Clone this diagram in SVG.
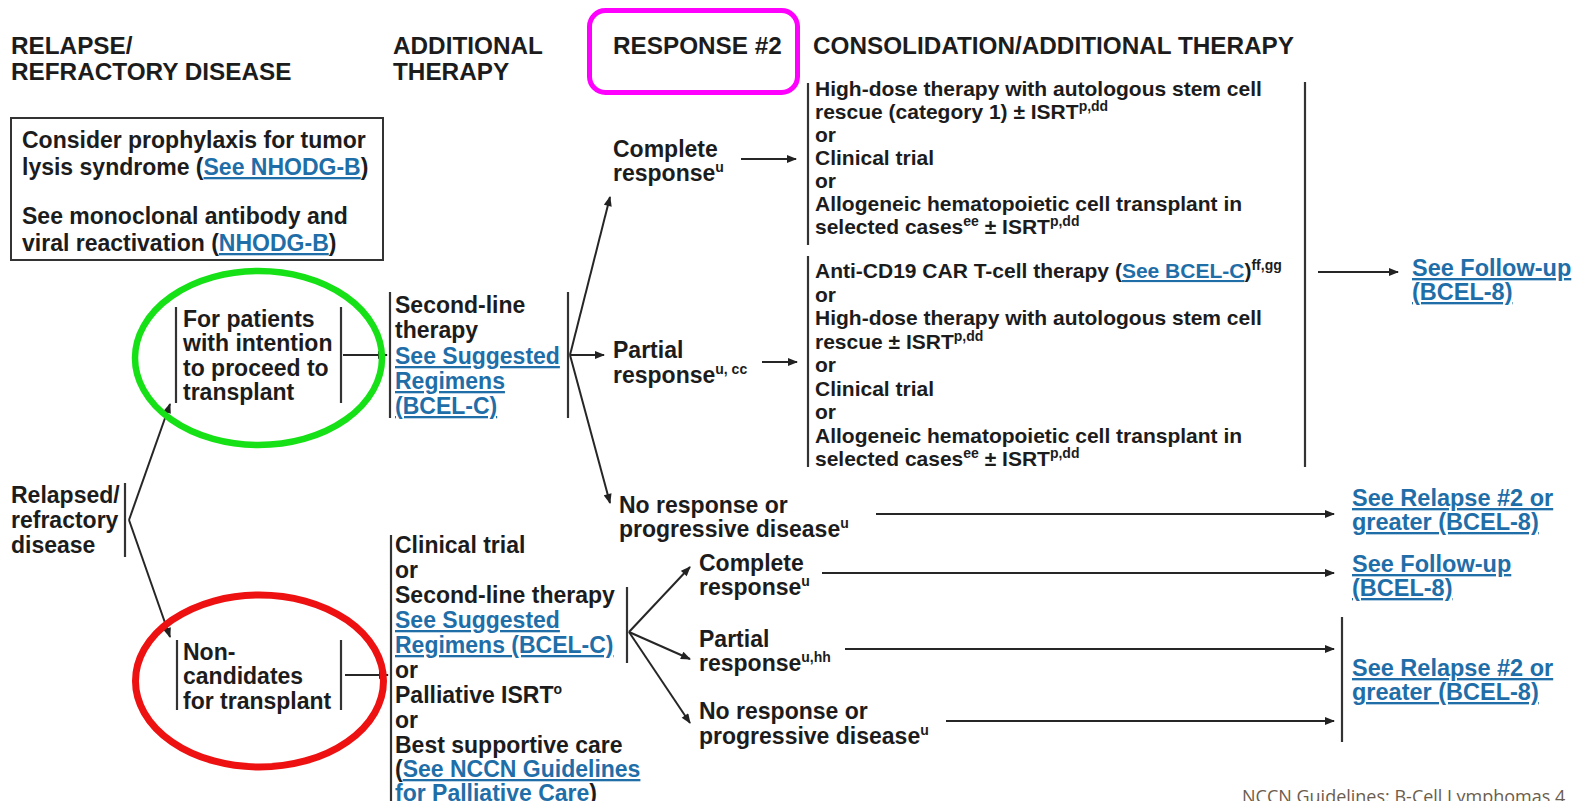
<svg xmlns="http://www.w3.org/2000/svg" width="1578" height="801" viewBox="0 0 1578 801">
<defs>
<style>
text{font-family:"Liberation Sans",Arial,sans-serif;font-weight:bold;fill:#1c1c1c}
.h{font-size:24.3px}
.t23{font-size:23px}
.t21{font-size:21px}
.t24{font-size:23.5px}
.lk{fill:#1f6ea8;text-decoration:underline}
.s{font-size:14px}
.bar{stroke:#333;stroke-width:2.2;fill:none}
.ar{stroke:#262626;stroke-width:2;fill:none;marker-end:url(#ah)}
.ft{font-family:"Open Sans","Noto Sans",sans-serif;font-weight:normal;font-size:18px;fill:#6b5d4d}
</style>
<marker id="ah" viewBox="0 0 10 8" refX="9" refY="4" markerWidth="11" markerHeight="8" markerUnits="userSpaceOnUse" orient="auto"><path d="M0,0 L10,4 L0,8 z" fill="#222"/></marker>
</defs>
<rect width="1578" height="801" fill="#fff"/>

<g id="headers">
<text class="h" x="11" y="54">RELAPSE/</text>
<text class="h" x="11" y="80">REFRACTORY DISEASE</text>
<text class="h" x="393" y="54">ADDITIONAL</text>
<text class="h" x="393" y="80">THERAPY</text>
<text class="h" x="613" y="54">RESPONSE #2</text>
<text class="h" x="813" y="54">CONSOLIDATION/ADDITIONAL THERAPY</text>
</g>

<g id="box-prophylaxis">
<rect x="11" y="118" width="372" height="142" fill="none" stroke="#333" stroke-width="2"/>
<text class="t23" x="22" y="148">Consider prophylaxis for tumor</text>
<text class="t23" x="22" y="175">lysis syndrome (<tspan class="lk">See NHODG-B</tspan>)</text>
<text class="t23" x="22" y="224">See monoclonal antibody and</text>
<text class="t23" x="22" y="251">viral reactivation (<tspan class="lk">NHODG-B</tspan>)</text>
</g>

<g id="node-relapsed">
<text class="t23" x="11" y="503">Relapsed/</text>
<text class="t23" x="11" y="528">refractory</text>
<text class="t23" x="11" y="553">disease</text>
<line class="bar" x1="125" y1="483" x2="125" y2="557"/>
</g>

<g id="node-transplant">
<line class="bar" x1="176" y1="307" x2="176" y2="403"/>
<line class="bar" x1="341" y1="307" x2="341" y2="403"/>
<text class="t23" x="183" y="327">For patients</text>
<text class="t23" x="183" y="351">with intention</text>
<text class="t23" x="183" y="376">to proceed to</text>
<text class="t23" x="183" y="400">transplant</text>
</g>

<g id="node-noncandidates">
<line class="bar" x1="177" y1="640" x2="177" y2="710"/>
<line class="bar" x1="341" y1="640" x2="341" y2="710"/>
<text class="t23" x="183" y="660">Non-</text>
<text class="t23" x="183" y="684">candidates</text>
<text class="t23" x="183" y="709">for transplant</text>
</g>

<g id="node-secondline">
<line class="bar" x1="390" y1="292" x2="390" y2="418"/>
<line class="bar" x1="568" y1="292" x2="568" y2="418"/>
<text class="t23" x="395" y="313">Second-line</text>
<text class="t23" x="395" y="338">therapy</text>
<text class="t23 lk" x="395" y="364">See Suggested</text>
<text class="t23 lk" x="395" y="389">Regimens</text>
<text class="t23 lk" x="395" y="414">(BCEL-C)</text>
</g>

<g id="node-bottom-therapy">
<line class="bar" x1="391" y1="535" x2="391" y2="801"/>
<line class="bar" x1="627" y1="587" x2="627" y2="663"/>
<text class="t23" x="395" y="553">Clinical trial</text>
<text class="t23" x="395" y="578">or</text>
<text class="t23" x="395" y="603">Second-line therapy</text>
<text class="t23 lk" x="395" y="628">See Suggested</text>
<text class="t23 lk" x="395" y="653">Regimens (BCEL-C)</text>
<text class="t23" x="395" y="678">or</text>
<text class="t23" x="395" y="703">Palliative ISRT<tspan class="s" dy="-9">o</tspan></text>
<text class="t23" x="395" y="728">or</text>
<text class="t23" x="395" y="753">Best supportive care</text>
<text class="t23" x="395" y="777">(<tspan class="lk">See NCCN Guidelines</tspan></text>
<text class="t23" x="395" y="801"><tspan class="lk">for Palliative Care</tspan>)</text>
</g>

<g id="node-cr1">
<text class="t23" x="613" y="157">Complete</text>
<text class="t23" x="613" y="181">response<tspan class="s" dy="-9">u</tspan></text>
</g>
<g id="node-pr1">
<text class="t23" x="613" y="358">Partial</text>
<text class="t23" x="613" y="383">response<tspan class="s" dy="-9">u, cc</tspan></text>
</g>
<g id="node-nr1">
<text class="t23" x="619" y="513">No response or</text>
<text class="t23" x="619" y="537">progressive disease<tspan class="s" dy="-9">u</tspan></text>
</g>

<g id="node-cons1">
<line class="bar" x1="808" y1="83" x2="808" y2="245"/>
<text class="t21" x="815" y="96">High-dose therapy with autologous stem cell</text>
<text class="t21" x="815" y="119">rescue (category 1) ± ISRT<tspan class="s" dy="-8">p,dd</tspan></text>
<text class="t21" x="815" y="142">or</text>
<text class="t21" x="815" y="165">Clinical trial</text>
<text class="t21" x="815" y="188">or</text>
<text class="t21" x="815" y="211">Allogeneic hematopoietic cell transplant in</text>
<text class="t21" x="815" y="234">selected cases<tspan class="s" dy="-8">ee</tspan><tspan dy="8"> ± ISRT</tspan><tspan class="s" dy="-8">p,dd</tspan></text>
</g>

<g id="node-cons2">
<line class="bar" x1="808" y1="256" x2="808" y2="467"/>
<text class="t21" x="815" y="278">Anti-CD19 CAR T-cell therapy (<tspan class="lk">See BCEL-C</tspan>)<tspan class="s" dy="-8">ff,gg</tspan></text>
<text class="t21" x="815" y="301.5">or</text>
<text class="t21" x="815" y="325">High-dose therapy with autologous stem cell</text>
<text class="t21" x="815" y="348.5">rescue ± ISRT<tspan class="s" dy="-8">p,dd</tspan></text>
<text class="t21" x="815" y="372">or</text>
<text class="t21" x="815" y="395.5">Clinical trial</text>
<text class="t21" x="815" y="419">or</text>
<text class="t21" x="815" y="442.5">Allogeneic hematopoietic cell transplant in</text>
<text class="t21" x="815" y="466">selected cases<tspan class="s" dy="-8">ee</tspan><tspan dy="8"> ± ISRT</tspan><tspan class="s" dy="-8">p,dd</tspan></text>
</g>

<g id="node-cons-bar">
<line class="bar" x1="1305" y1="82" x2="1305" y2="467"/>
</g>

<g id="node-followup1">
<text class="t24 lk" x="1412" y="276">See Follow-up</text>
<text class="t24 lk" x="1412" y="300">(BCEL-8)</text>
</g>

<g id="node-cr2">
<text class="t23" x="699" y="571">Complete</text>
<text class="t23" x="699" y="595">response<tspan class="s" dy="-9">u</tspan></text>
</g>
<g id="node-pr2">
<text class="t23" x="699" y="647">Partial</text>
<text class="t23" x="699" y="671">response<tspan class="s" dy="-9">u,hh</tspan></text>
</g>
<g id="node-nr2">
<text class="t23" x="699" y="719">No response or</text>
<text class="t23" x="699" y="744">progressive disease<tspan class="s" dy="-9">u</tspan></text>
</g>

<g id="node-relapse1">
<text class="t24 lk" x="1352" y="506">See Relapse #2 or</text>
<text class="t24 lk" x="1352" y="530">greater (BCEL-8)</text>
</g>
<g id="node-followup2">
<text class="t24 lk" x="1352" y="572">See Follow-up</text>
<text class="t24 lk" x="1352" y="596">(BCEL-8)</text>
</g>
<g id="node-relapse2">
<line class="bar" x1="1342" y1="617" x2="1342" y2="742"/>
<text class="t24 lk" x="1352" y="676">See Relapse #2 or</text>
<text class="t24 lk" x="1352" y="700">greater (BCEL-8)</text>
</g>

<g id="connectors">
<line class="ar" x1="129" y1="520" x2="170" y2="404"/>
<line class="ar" x1="129" y1="520" x2="170" y2="637"/>
<line class="ar" x1="343" y1="355" x2="387" y2="355"/>
<line class="ar" x1="345" y1="675" x2="388" y2="675"/>
<line class="ar" x1="570" y1="355" x2="610" y2="197"/>
<line class="ar" x1="570" y1="355" x2="604" y2="355"/>
<line class="ar" x1="570" y1="355" x2="610" y2="503"/>
<line class="ar" x1="741" y1="159" x2="796" y2="159"/>
<line class="ar" x1="762" y1="362" x2="797" y2="362"/>
<line class="ar" x1="1318" y1="272" x2="1398" y2="272"/>
<line class="ar" x1="876" y1="514" x2="1334" y2="514"/>
<line class="ar" x1="629" y1="632" x2="690" y2="567"/>
<line class="ar" x1="629" y1="632" x2="690" y2="659"/>
<line class="ar" x1="629" y1="632" x2="690" y2="723"/>
<line class="ar" x1="822" y1="573" x2="1334" y2="573"/>
<line class="ar" x1="845" y1="649" x2="1334" y2="649"/>
<line class="ar" x1="946" y1="721" x2="1334" y2="721"/>
</g>

<g id="highlights" fill="none">
<rect x="589.5" y="10.5" width="208" height="82" rx="16" stroke="#ff00ff" stroke-width="5"/>
<ellipse cx="258.5" cy="358" rx="123.5" ry="87" stroke="#16e016" stroke-width="6.5"/>
<ellipse cx="259.5" cy="681" rx="124" ry="86" stroke="#ee1111" stroke-width="7"/>
</g>

<text class="ft" x="1242" y="803">NCCN Guidelines: B-Cell Lymphomas 4</text>
</svg>
